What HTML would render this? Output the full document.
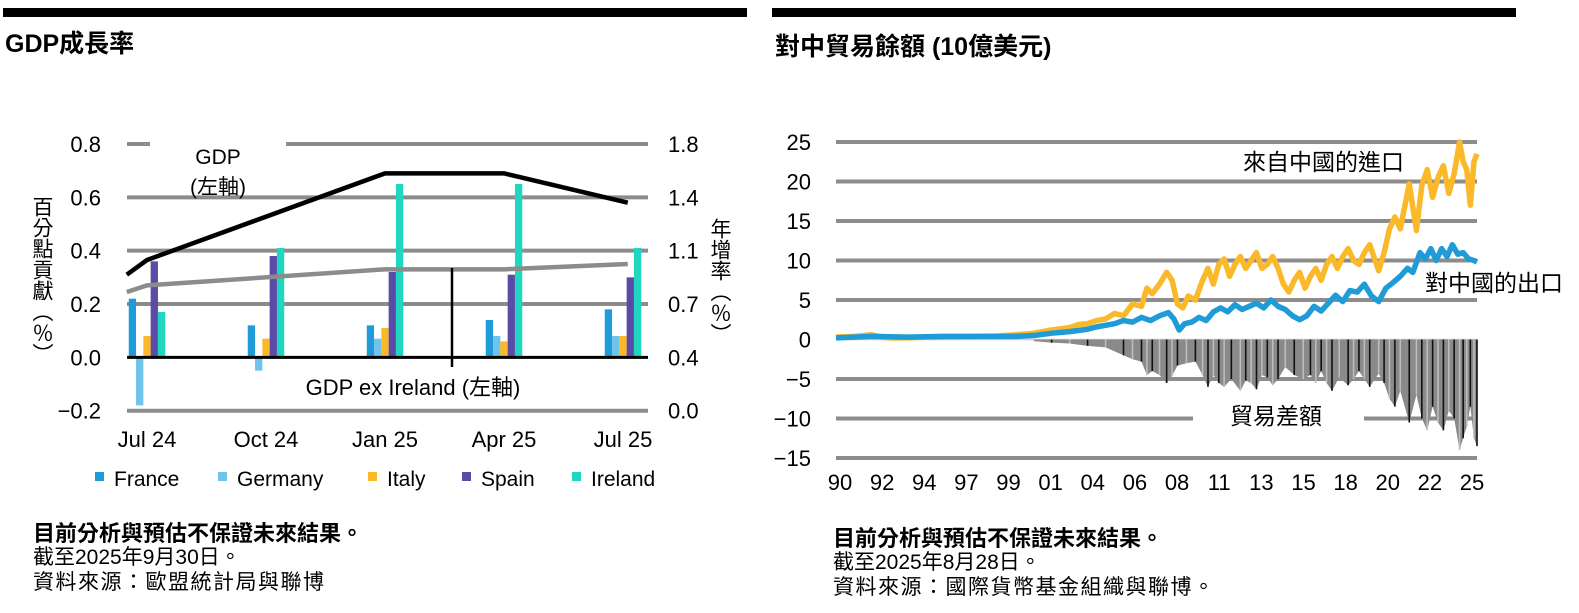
<!DOCTYPE html>
<html><head><meta charset="utf-8">
<style>
html,body{margin:0;padding:0;background:#fff;}
body{width:1579px;height:613px;overflow:hidden;position:relative;font-family:"Liberation Sans","Noto Sans CJK TC",sans-serif;}
.t{position:absolute;white-space:nowrap;color:#000;}
.v{position:absolute;writing-mode:vertical-rl;text-orientation:upright;font-size:21px;line-height:21px;color:#000;font-family:"Noto Sans CJK TC",sans-serif;}
svg{position:absolute;left:0;top:0;}
</style></head><body>
<div style="position:absolute;left:3px;top:8px;width:744px;height:9px;background:#000"></div>
<div style="position:absolute;left:772px;top:8px;width:744px;height:9px;background:#000"></div>
<div class="t" style="left:5px;top:24px;font-size:25px;font-weight:bold">GDP成長率</div>
<div class="t" style="left:775px;top:27px;font-size:25px;font-weight:bold">對中貿易餘額 (10億美元)</div>

<svg id="chart" width="1579" height="613" font-family="Liberation Sans, Noto Sans CJK TC, sans-serif"></svg>

<div class="v" style="left:32px;top:196px">百分點貢獻（%）</div>
<div class="v" style="left:710px;top:218px">年增率（%）</div>

<div class="t" style="left:33px;top:516px;font-size:22px;font-weight:bold">目前分析與預估不保證未來結果。</div>
<div class="t" style="left:33px;top:541px;font-size:21px">截至2025年9月30日。</div>
<div class="t" style="left:33px;top:566px;font-size:21px;letter-spacing:1.5px">資料來源：歐盟統計局與聯博</div>
<div class="t" style="left:833px;top:521px;font-size:22px;font-weight:bold">目前分析與預估不保證未來結果。</div>
<div class="t" style="left:833px;top:546px;font-size:21px">截至2025年8月28日。</div>
<div class="t" style="left:833px;top:571px;font-size:21px;letter-spacing:1.5px">資料來源：國際貨幣基金組織與聯博。</div>

<script>
// ---------- Left chart data ----------
const quarters = ["Jul 24","Oct 24","Jan 25","Apr 25","Jul 25"];
const countries = ["France","Germany","Italy","Spain","Ireland"];
const colors = ["#1f9bd7","#6ec4ea","#fbb829","#5b4ba6","#1fd6c0"];
const france  = [0.22,0.12,0.12,0.14,0.18];
const germany = [-0.18,-0.05,0.07,0.08,0.08];
const italy   = [0.08,0.07,0.11,0.06,0.08];
const spain   = [0.36,0.38,0.32,0.31,0.30];
const ireland = [0.17,0.41,0.65,0.65,0.41];
const lineX   = [-0.17,0,2,3,4.04];
const gdpLine = [0.31,0.365,0.69,0.69,0.58];
const gdpExIreland = [0.245,0.27,0.33,0.33,0.35];
const leftTicks = [-0.2,0,0.2,0.4,0.6,0.8];
const leftTickLabels = ["\u22120.2","0.0","0.2","0.4","0.6","0.8"];
const rightTickLabels = ["0.0","0.4","0.7","1.1","1.4","1.8"];

// ---------- Right chart data ----------
const xYearLabels = ["90","92","94","97","99","01","04","06","08","11","13","15","18","20","22","25"];
const rightTicks = [-15,-10,-5,0,5,10,15,20,25];
const rightTickText = ["\u221215","\u221210","\u22125","0","5","10","15","20","25"];
const importYears = [1990,1991,1992,1992.5,1993,1994,1995,1996,1997,1998,1999,2000,2001,2002,2003,2003.5,2004,2004.5,2005,2005.5,2006,2006.5,2007,2007.3,2007.6,2008.0,2008.4,2008.7,2009.0,2009.3,2009.6,2010.0,2010.4,2010.7,2011.0,2011.3,2011.6,2011.9,2012.2,2012.5,2012.8,2013.1,2013.4,2013.7,2014.0,2014.3,2014.6,2014.9,2015.2,2015.5,2015.8,2016.1,2016.4,2016.7,2017.0,2017.3,2017.6,2017.9,2018.2,2018.5,2018.8,2019.1,2019.4,2019.7,2020.2,2020.5,2020.8,2021.1,2021.4,2021.9,2022.3,2022.6,2022.9,2023.2,2023.5,2023.8,2024.1,2024.4,2024.7,2024.9,2025.1,2025.3,2025.5,2025.67];
const imports = [0.3,0.4,0.6,0.3,0.2,0.2,0.3,0.3,0.35,0.4,0.45,0.6,0.8,1.2,1.5,1.9,2.0,2.4,2.6,3.3,3.0,4.5,4.2,6.5,5.8,7.0,8.5,7.5,4.5,4.0,5.5,5.0,7.5,9.0,7.0,9.5,10.2,8.0,9.5,10.5,9.0,10.0,11.0,9.0,9.5,10.5,9.0,7.0,6.0,7.5,8.5,6.5,8.0,9.0,7.5,9.5,10.5,9.0,10.5,11.5,10.0,9.5,11.0,12.0,8.7,11.0,14.0,15.5,14.0,19.7,13.8,19.5,21.5,18.0,20.5,22.0,18.5,21.0,25.0,22.5,21.5,17.0,22.5,23.5];
const exportYears = [1990,1992,1994,1996,1998,2000,2001,2002,2003,2004,2004.5,2005,2005.5,2006,2006.5,2007,2007.5,2008,2008.5,2008.8,2009.1,2009.4,2009.8,2010.2,2010.6,2011.0,2011.4,2011.8,2012.2,2012.6,2013.0,2013.4,2013.8,2014.2,2014.6,2015.0,2015.4,2015.8,2016.2,2016.6,2017.0,2017.4,2017.8,2018.2,2018.6,2019.0,2019.4,2019.8,2020.2,2020.6,2021.0,2021.4,2021.8,2022.1,2022.5,2022.8,2023.1,2023.4,2023.7,2024.0,2024.3,2024.6,2024.9,2025.2,2025.5,2025.67];
const exports_ = [0.2,0.4,0.3,0.4,0.4,0.4,0.5,0.8,1.0,1.3,1.6,1.8,2.0,2.4,2.2,2.8,2.4,3.0,3.4,2.6,1.2,2.0,2.2,2.8,2.4,3.5,4.0,3.5,4.4,3.8,4.2,4.6,4.0,5.0,4.2,3.8,3.0,2.5,3.0,4.2,3.6,4.6,5.6,4.8,6.2,6.0,7.0,5.5,4.8,6.5,7.2,8.0,9.0,8.5,11.0,10.2,11.5,10.0,11.5,10.5,12.0,10.8,11.0,10.2,10.0,9.8];
const balanceYears = [2001,2002,2003,2004,2005,2006,2006.5,2007,2007.3,2007.6,2008.0,2008.4,2008.7,2009.0,2009.5,2010.0,2010.4,2010.7,2011.0,2011.3,2011.6,2012.0,2012.5,2012.8,2013.1,2013.4,2013.7,2014.0,2014.3,2014.6,2015.0,2015.5,2016.0,2016.4,2016.7,2017.0,2017.3,2017.6,2018.0,2018.5,2018.8,2019.1,2019.4,2019.7,2020.2,2020.5,2020.8,2021.1,2021.4,2021.9,2022.3,2022.6,2022.9,2023.2,2023.5,2023.8,2024.1,2024.4,2024.7,2024.9,2025.1,2025.3,2025.5,2025.67];
const balance = [-0.2,-0.4,-0.5,-0.8,-1.0,-2.0,-2.5,-2.8,-4.5,-4.0,-4.5,-5.5,-4.6,-3.3,-3.0,-2.8,-4.5,-6.0,-4.5,-5.5,-6.0,-5.0,-6.5,-5.2,-5.5,-6.3,-4.5,-4.8,-5.8,-5.0,-3.5,-4.5,-5.0,-4.5,-5.5,-4.0,-5.5,-6.5,-4.8,-5.8,-5.0,-4.0,-5.0,-6.0,-4.3,-5.5,-7.5,-8.5,-6.5,-10.5,-7.0,-10.0,-11.5,-8.5,-10.5,-11.5,-9.0,-10.0,-14.0,-12.5,-11.0,-8.5,-12.5,-13.5];

const svg = document.getElementById('chart');
const NS = 'http://www.w3.org/2000/svg';
function mk(tag, attrs, parent){
  const e = document.createElementNS(NS, tag);
  for (const k in attrs) e.setAttribute(k, attrs[k]);
  (parent||svg).appendChild(e);
  return e;
}
function txt(x,y,s,size,anchor,name){
  const t = mk('text',{x:x,y:y,'font-size':size,'text-anchor':anchor||'start',fill:'#000'});
  t.textContent = s;
  
  
  return t;
}

// ---------- Left chart ----------
const L = {x0:127, x1:648, y0v:-0.2, y1v:0.8, yTop:144, yBot:410.7, cx0:147, step:119};
const ly = v => L.yBot - (v - L.y0v)/(L.y1v - L.y0v)*(L.yBot - L.yTop);
const lx = i => L.cx0 + i*L.step;

leftTicks.forEach((v,i)=>{
  const y = ly(v);
  if (v === 0) return;
  if (v === 0.8) {
    const g1 = mk('line',{x1:L.x0,x2:150,y1:y,y2:y,stroke:'#8c8c8c','stroke-width':4});
    
    
    const g2 = mk('line',{x1:286,x2:L.x1,y1:y,y2:y,stroke:'#8c8c8c','stroke-width':4});
    
    
  } else {
    const g = mk('line',{x1:L.x0,x2:L.x1,y1:y,y2:y,stroke:'#8c8c8c','stroke-width':4});
    
    
  }
});
leftTicks.forEach((v,i)=>{
  txt(101, ly(v)+8, leftTickLabels[i], 22, 'end', 'left-y-tick-label');
  txt(668, ly(v)+8, rightTickLabels[i], 22, 'start', 'right-y-tick-label');
});

const series = [france,germany,italy,spain,ireland];
const bw = 7.3;
quarters.forEach((q,qi)=>{
  series.forEach((s,si)=>{
    const x = lx(qi) - 2.5*bw + si*bw;
    const y0 = ly(0), y1 = ly(s[qi]);
    const r = mk('rect',{x:x,y:Math.min(y0,y1),width:bw,height:Math.abs(y1-y0),fill:colors[si]});
    
    
  });
  txt(lx(qi), 447, q, 22, 'middle', 'left-x-tick-label');
});
const zl = mk('line',{x1:L.x0,x2:L.x1,y1:ly(0),y2:ly(0),stroke:'#000','stroke-width':3});



const pGdp = lineX.map((x,i)=>lx(x)+','+ly(gdpLine[i])).join(' ');
const gl = mk('polyline',{points:pGdp,fill:'none',stroke:'#000','stroke-width':4.5});


const pEx = lineX.map((x,i)=>lx(x)+','+ly(gdpExIreland[i])).join(' ');
const el2 = mk('polyline',{points:pEx,fill:'none',stroke:'#8c8c8c','stroke-width':4.5});


const vl = mk('line',{x1:452,x2:452,y1:268,y2:367,stroke:'#000','stroke-width':2.5});



txt(218,164,'GDP',21,'middle','gdp-label');
txt(218,194,'(左軸)',21,'middle','gdp-axis-note');
txt(413,395,'GDP ex Ireland (左軸)',22,'middle','gdp-ex-ireland-label');

const legX = [95,218,368,462,572];
countries.forEach((c,i)=>{
  const r = mk('rect',{x:legX[i],y:472,width:9,height:9,fill:colors[i]});
  
  
  txt(legX[i]+19, 486, c, 21, 'start', 'legend-label-'+c.toLowerCase());
});

// ---------- Right chart ----------
const R = {x0:836, x1:1477, yr0:1990, yr1:2025.67, v0:-15, v1:25, yBot:458, yTop:142};
const rx = yr => R.x0 + (yr - R.yr0)/(R.yr1 - R.yr0)*(R.x1 - R.x0);
const ry = v => R.yBot - (v - R.v0)/(R.v1 - R.v0)*(R.yBot - R.yTop);

rightTicks.forEach((v,i)=>{
  const y = ry(v);
  if (v === -10) {
    const a = mk('line',{x1:R.x0,x2:1193,y1:y,y2:y,stroke:'#8c8c8c','stroke-width':4});
    
    
    const b = mk('line',{x1:1364,x2:R.x1,y1:y,y2:y,stroke:'#8c8c8c','stroke-width':4});
    
    
  } else if (v !== 0) {
    const g = mk('line',{x1:R.x0,x2:R.x1,y1:y,y2:y,stroke:'#8c8c8c','stroke-width':4});
    
    
  }
  txt(811, y+8, rightTickText[i], 22, 'end', 'right-chart-y-tick-label');
});
const z2 = mk('line',{x1:R.x0,x2:R.x1,y1:ry(0),y2:ry(0),stroke:'#cfcfcf','stroke-width':1.5});



let pts = rx(balanceYears[0])+','+ry(0)+' ';
balanceYears.forEach((yv,i)=>{ pts += rx(yv)+','+ry(balance[i])+' '; });
pts += rx(balanceYears[balanceYears.length-1])+','+ry(0);
const area = mk('polygon',{points:pts,fill:'#8a8a8a'});


balanceYears.forEach((yv,i)=>{
  const b = mk('line',{x1:rx(yv),x2:rx(yv),y1:ry(0),y2:ry(balance[i]),stroke:(i%2?'#111':'#bdbdbd'),'stroke-width':1.6});
  
  
});

const pi = importYears.map((yv,i)=>rx(yv)+','+ry(imports[i])).join(' ');
const il = mk('polyline',{points:pi,fill:'none',stroke:'#fbb829','stroke-width':5.5,'stroke-linejoin':'round'});


const pe = exportYears.map((yv,i)=>rx(yv)+','+ry(exports_[i])).join(' ');
const xl = mk('polyline',{points:pe,fill:'none',stroke:'#1f9bd7','stroke-width':5.5,'stroke-linejoin':'round'});



const lblStep = (R.x1 - 5 - (R.x0 + 4)) / (xYearLabels.length - 1);
xYearLabels.forEach((l,i)=>{
  txt(R.x0 + 4 + i*lblStep, 490, l, 22, 'middle', 'right-x-tick-label');
});

txt(1243,170,'來自中國的進口',23,'start','imports-label');
txt(1425,291,'對中國的出口',23,'start','exports-label');
txt(1230,424,'貿易差額',23,'start','trade-balance-label');
</script>
</body></html>
